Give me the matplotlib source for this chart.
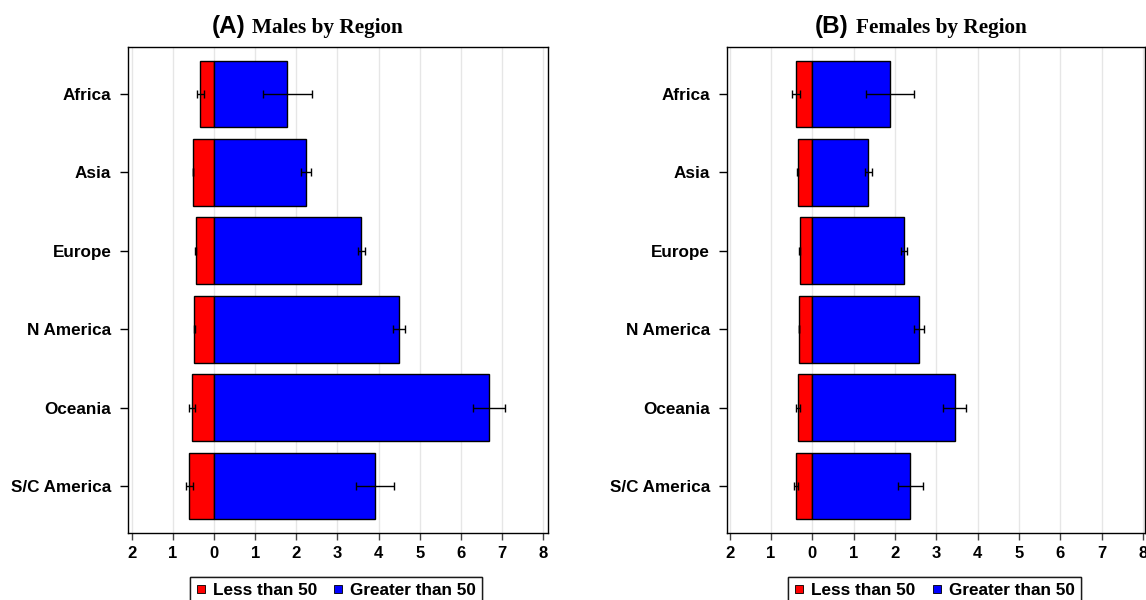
import matplotlib
matplotlib.use("Agg")
import matplotlib.pyplot as plt
from matplotlib.lines import Line2D
from matplotlib.ticker import FixedLocator, FuncFormatter

regions = ["Africa", "Asia", "Europe", "N America", "Oceania", "S/C America"]

# Males: mean values and standard errors for each group
male_less = [0.33, 0.51, 0.44, 0.48, 0.54, 0.60]
male_less_err = [0.09, 0.01, 0.01, 0.015, 0.07, 0.08]
male_greater = [1.78, 2.24, 3.58, 4.50, 6.68, 3.92]
male_greater_err = [0.60, 0.12, 0.09, 0.14, 0.39, 0.46]

# Females: mean values and standard errors for each group
female_less = [0.39, 0.35, 0.30, 0.32, 0.35, 0.39]
female_less_err = [0.10, 0.01, 0.01, 0.01, 0.055, 0.055]
female_greater = [1.88, 1.36, 2.21, 2.59, 3.45, 2.37]
female_greater_err = [0.59, 0.085, 0.07, 0.125, 0.28, 0.30]

x_ticks = [-2, -1, 0, 1, 2, 3, 4, 5, 6, 7, 8]
legend_labels = ["Less than 50", "Greater than 50"]

W, H = 1146, 600
fig = plt.figure(figsize=(W / 100, H / 100), dpi=100)


def px_axes(left, top, right, bottom):
    return fig.add_axes([left / W, 1 - bottom / H, (right - left) / W, (bottom - top) / H])


def draw_panel(ax, less, less_err, greater, greater_err, xlim):
    pos = list(range(len(regions)))
    neg = [-v for v in less]
    ax.set_axisbelow(True)
    for t in x_ticks:
        ax.axvline(t, color="#e6e6e6", lw=1.0, zorder=0)
    ax.barh(pos, neg, height=0.85, color="#ff0000", edgecolor="black", lw=1.0, zorder=2)
    ax.barh(pos, greater, height=0.85, color="#0000ff", edgecolor="black", lw=1.0, zorder=2)
    ax.errorbar(neg, pos, xerr=less_err, fmt="none", ecolor="black",
                elinewidth=1.0, capsize=2.6, capthick=1.0, zorder=3)
    ax.errorbar(greater, pos, xerr=greater_err, fmt="none", ecolor="black",
                elinewidth=1.0, capsize=2.6, capthick=1.0, zorder=3)
    ax.set_xlim(*xlim)
    ax.set_ylim(5.6, -0.6)
    ax.set_yticks(pos)
    ax.set_yticklabels(regions, fontsize=12.3, fontweight="bold", family="Liberation Sans")
    ax.xaxis.set_major_locator(FixedLocator(x_ticks))
    ax.xaxis.set_major_formatter(FuncFormatter(lambda v, p: f"{abs(int(round(v)))}"))
    for lab in ax.get_xticklabels():
        lab.set_fontsize(12)
        lab.set_fontweight("bold")
        lab.set_family("Liberation Sans")
    ax.tick_params(axis="y", length=6, width=1.0, pad=6)
    ax.tick_params(axis="x", length=5, width=1.0, pad=4, color="#444444")
    for s in ax.spines.values():
        s.set_linewidth(1.0)
        s.set_color("black")


ax1 = px_axes(128, 47, 547.7, 533)
draw_panel(ax1, male_less, male_less_err, male_greater, male_greater_err, (-2.09, 8.11))
ax2 = px_axes(726.7, 47, 1145, 533)
draw_panel(ax2, female_less, female_less_err, female_greater, female_greater_err, (-2.07, 8.05))

# Panel titles: bold sans letter followed by bold serif text
base = 1 - 32.5 / H
fig.text(245 / W, base, "(A)", ha="right", va="baseline", fontsize=17.5,
         fontweight="bold", family="Liberation Sans")
fig.text(252 / W, base, "Males by Region", ha="left", va="baseline", fontsize=15.3,
         fontweight="bold", family="Liberation Serif")
fig.text(849 / W, base, "(B)", ha="right", va="baseline", fontsize=17.5,
         fontweight="bold", family="Liberation Sans")
fig.text(856 / W, base, "Females by Region", ha="left", va="baseline", fontsize=15.3,
         fontweight="bold", family="Liberation Serif")

handles = [
    Line2D([], [], ls="none", marker="s", markersize=5.5, markerfacecolor="#ff0000",
           markeredgecolor="black", markeredgewidth=0.6),
    Line2D([], [], ls="none", marker="s", markersize=5.5, markerfacecolor="#0000ff",
           markeredgecolor="black", markeredgewidth=0.6),
]
for cx in ((189.3 + 482.7) / 2, (787.7 + 1081) / 2):
    leg = fig.legend(handles, legend_labels, loc="upper center",
                     bbox_to_anchor=(cx / W, 1 - 576.7 / H), ncol=2, frameon=True,
                     fancybox=False, borderpad=0.35, handlelength=0.6, handletextpad=0.4,
                     columnspacing=0.95, borderaxespad=0,
                     prop={"family": "Liberation Sans", "weight": "bold", "size": 12.3})
    leg.get_frame().set_edgecolor("black")
    leg.get_frame().set_linewidth(1.0)
    fig.add_artist(leg)

fig.savefig("out.png", dpi=100)
